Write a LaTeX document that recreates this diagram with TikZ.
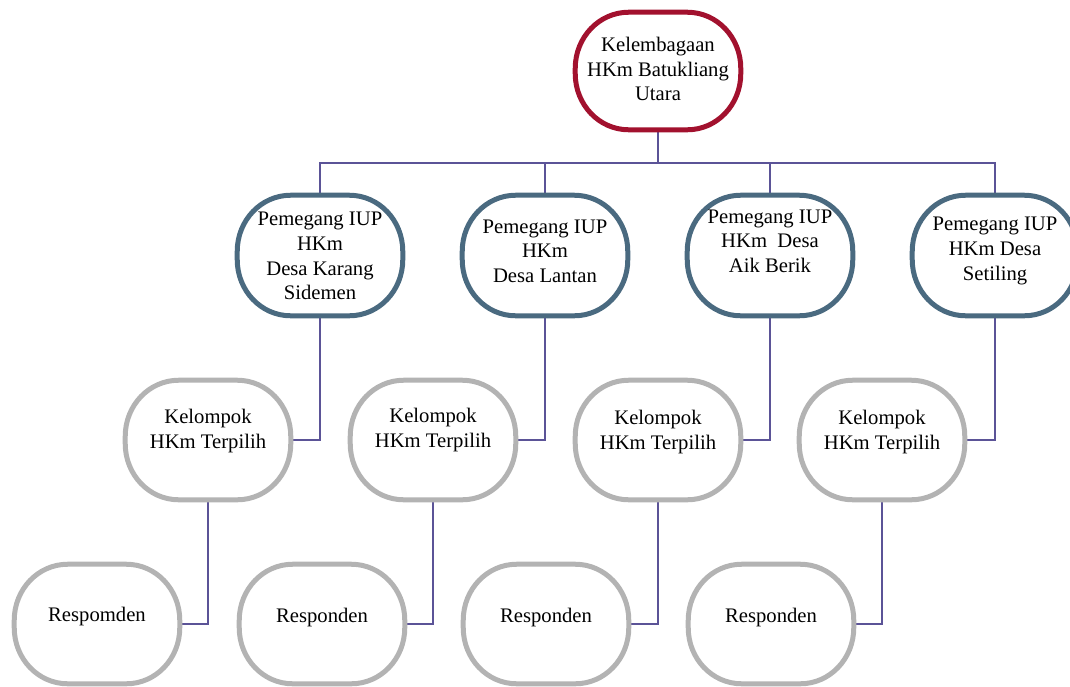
\documentclass[tikz,border=0pt]{standalone}
\usepackage{fontspec}
\setmainfont{Liberation Serif}
\definecolor{topred}{HTML}{A2112E}
\definecolor{slate}{HTML}{4A6A80}
\definecolor{lgray}{HTML}{B3B3B3}
\definecolor{conn}{HTML}{5B5397}
\newcommand\ovrx{40pt}
\newcommand\ovry{42pt}
\tikzset{
  box/.style={draw=none, inner sep=0pt, minimum width=123.75pt},
  topbox/.style={box, minimum height=87.75pt},
  midbox/.style={box, minimum height=90pt},
  grpbox/.style={box, minimum height=89.25pt},
  outline/.style={line width=3.75pt, fill=white},
  txt/.style={align=center, font=\fontsize{15.5}{18.5}\selectfont, inner sep=0pt},
  link/.style={draw=conn, line width=1.1pt}
}
\newcommand\ovl[2]{%
  \draw[outline, draw=#2] ([xshift=\ovrx]#1.north west) -- ([xshift=-\ovrx]#1.north east)
    arc[start angle=90, end angle=0, x radius=\ovrx, y radius=\ovry]
    -- ([yshift=\ovry]#1.south east)
    arc[start angle=0, end angle=-90, x radius=\ovrx, y radius=\ovry]
    -- ([xshift=\ovrx]#1.south west)
    arc[start angle=270, end angle=180, x radius=\ovrx, y radius=\ovry]
    -- ([yshift=-\ovry]#1.north west)
    arc[start angle=180, end angle=90, x radius=\ovrx, y radius=\ovry]
    -- cycle;}
\begin{document}
\begin{tikzpicture}[x=0.75pt, y=-0.75pt]
\useasboundingbox (0,0) rectangle (1070,686);
% box nodes
\node[topbox] (k) at (658,71) {};
\node[midbox] (p1) at (320,255.5) {};
\node[midbox] (p2) at (545,255.5) {};
\node[midbox] (p3) at (770,255.5) {};
\node[midbox] (p4) at (995,255.5) {};
\node[grpbox] (g1) at (208,440) {};
\node[grpbox] (g2) at (433,440) {};
\node[grpbox] (g3) at (658,440) {};
\node[grpbox] (g4) at (882,440) {};
\node[grpbox] (r1) at (97,624) {};
\node[grpbox] (r2) at (322,624) {};
\node[grpbox] (r3) at (546,624) {};
\node[grpbox] (r4) at (771,624) {};
% connectors
\coordinate (bus) at (658,163);
\draw[link] (k.south) -- (bus);
\draw[link] (p1.north) |- (bus);
\draw[link] (p4.north) |- (bus);
\draw[link] (p2.north) -- (p2.north |- bus);
\draw[link] (p3.north) -- (p3.north |- bus);
\foreach \i in {1,2,3,4}{
  \draw[link] (p\i.south) |- (g\i.east);
  \draw[link] (g\i.south) |- (r\i.east);
}
% outlines
\ovl{k}{topred}
\foreach \i in {1,2,3,4}{\ovl{p\i}{slate}\ovl{g\i}{lgray}\ovl{r\i}{lgray}}
% texts
\node[txt] (kt) at (658,69) {Kelembagaan\\HKm Batukliang\\Utara};
\node[txt] (p1t) at (320,256) {Pemegang IUP\\HKm\\Desa Karang\\Sidemen};
\node[txt] (p2t) at (545,251) {Pemegang IUP\\HKm\\Desa Lantan};
\node[txt] (p3t) at (770,241) {Pemegang IUP\\HKm~~Desa\\Aik Berik};
\node[txt] (p4t) at (995,251) {Pemegang IUP\\HKm Desa\\Setiling};
\node[txt] (g1t) at (208,431) {Kelompok\\HKm Terpilih};
\node[txt] (g2t) at (433,430) {Kelompok\\HKm Terpilih};
\node[txt] (g3t) at (658,432) {Kelompok\\HKm Terpilih};
\node[txt] (g4t) at (882,432) {Kelompok\\HKm Terpilih};
\node[txt] (r1t) at (97,617) {Respomden};
\node[txt] (r2t) at (322,618) {Responden};
\node[txt] (r3t) at (546,618) {Responden};
\node[txt] (r4t) at (771,618) {Responden};
\end{tikzpicture}
\end{document}
